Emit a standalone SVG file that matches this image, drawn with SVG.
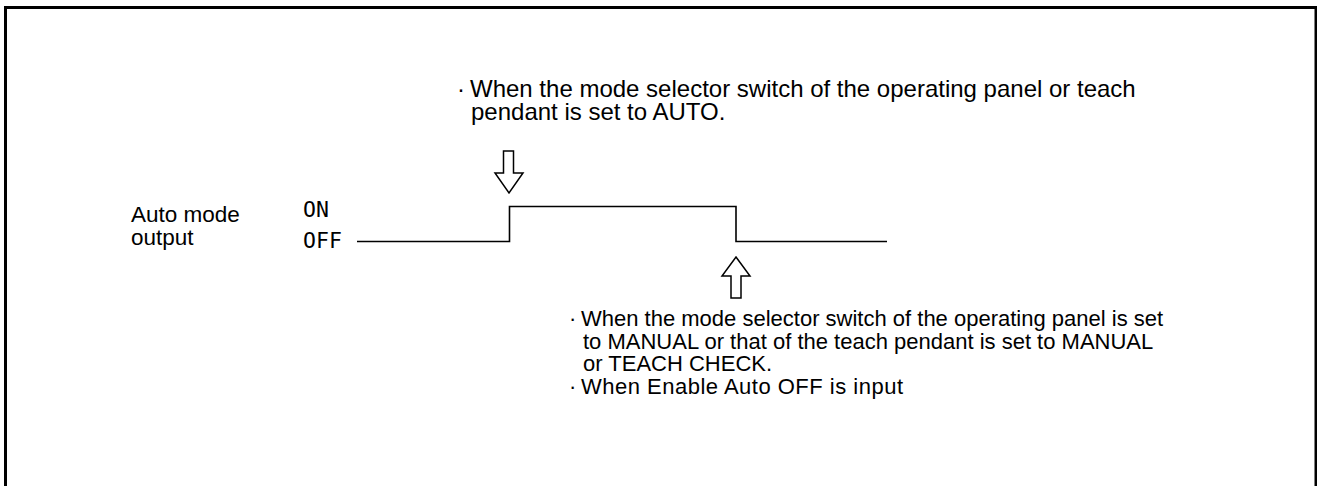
<svg xmlns="http://www.w3.org/2000/svg" width="1317" height="486" viewBox="0 0 1317 486">
<style>
.t{font-family:"Liberation Sans",Arial,sans-serif;fill:#000}
.top{font-size:24px}
.bot{font-size:22px}
.lbl{font-size:22.5px}
.mono{font-family:"DejaVu Sans Mono","Liberation Mono",monospace;font-size:21.5px;fill:#000}
.wave{fill:none;stroke:#000;stroke-width:1.6}
.arrow{fill:#fff;stroke:#000;stroke-width:1.5;stroke-linejoin:miter}
</style>
<rect width="1317" height="486" fill="#fff"/>
<path d="M5.5,490 V7.5 H1316 V490" fill="none" stroke="#000" stroke-width="3"/>
<g id="signal-label">
<text class="t lbl" x="131" y="222">Auto mode</text>
<text class="t lbl" x="131" y="245">output</text>
</g>
<g id="levels">
<text class="mono" x="303" y="217">ON</text>
<text class="mono" x="303" y="248">OFF</text>
</g>
<g id="connectors">
<polyline id="waveform" class="wave" points="357,241.5 509.5,241.5 509.5,206.5 736,206.5 736,241.5 887,241.5"/>
<polygon id="arrow-down" class="arrow" points="503.5,151 513.5,151 513.5,173 523,173 509,193 495,173 503.5,173"/>
<polygon id="arrow-up" class="arrow" points="736,257 750,276 741,276 741,298 731,298 731,276 722,276"/>
</g>
<g id="note-on">
<text class="t top" y="97"><tspan x="457">·</tspan><tspan x="470">When the mode selector switch of the operating panel or teach</tspan></text>
<text class="t top" x="471" y="120">pendant is set to AUTO.</text>
</g>
<g id="note-off">
<text class="t bot" y="326"><tspan x="569">·</tspan><tspan x="581">When the mode selector switch of the operating panel is set</tspan></text>
<text class="t bot" x="583" y="349">to MANUAL or that of the teach pendant is set to MANUAL</text>
<text class="t bot" x="583" y="371">or TEACH CHECK.</text>
<text class="t bot" y="394"><tspan x="569">·</tspan><tspan x="581" textLength="322">When Enable Auto OFF is input</tspan></text>
</g>
</svg>
